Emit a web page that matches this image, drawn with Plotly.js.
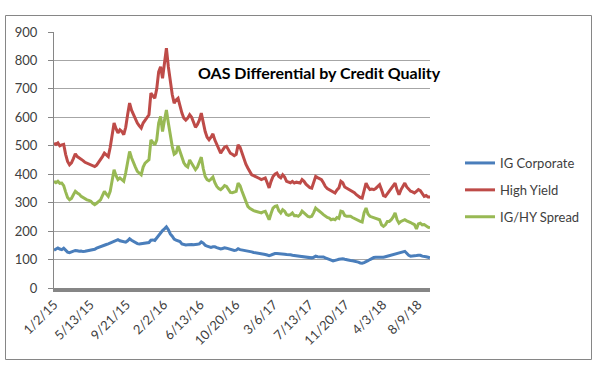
<!DOCTYPE html>
<html>
<head>
<meta charset="utf-8">
<script src="https://cdn.plot.ly/plotly-3.0.1.min.js"></script>
<style>html,body{margin:0;padding:0;background:#fff;}#chart{width:602px;height:373px;}</style>
</head>
<body>
<div id="chart"></div>
<script>
// Weekly observation dates (Fridays)
var dates = [
"2015-01-02","2015-01-09","2015-01-16","2015-01-23","2015-01-30","2015-02-06","2015-02-13","2015-02-20","2015-02-27",
"2015-03-06","2015-03-13","2015-03-20","2015-03-27","2015-04-03","2015-04-10","2015-04-17","2015-04-24",
"2015-05-01","2015-05-08","2015-05-15","2015-05-22","2015-05-29","2015-06-05","2015-06-12","2015-06-19","2015-06-26",
"2015-07-03","2015-07-10","2015-07-17","2015-07-24","2015-07-31","2015-08-07","2015-08-14","2015-08-21","2015-08-28",
"2015-09-04","2015-09-11","2015-09-18","2015-09-25","2015-10-02","2015-10-09","2015-10-16","2015-10-23","2015-10-30",
"2015-11-06","2015-11-13","2015-11-20","2015-11-27","2015-12-04","2015-12-11","2015-12-18","2015-12-25",
"2016-01-01","2016-01-08","2016-01-15","2016-01-22","2016-01-29","2016-02-05","2016-02-12","2016-02-19","2016-02-26",
"2016-03-04","2016-03-11","2016-03-18","2016-03-25","2016-04-01","2016-04-08","2016-04-15","2016-04-22","2016-04-29",
"2016-05-06","2016-05-13","2016-05-20","2016-05-27","2016-06-03","2016-06-10","2016-06-17","2016-06-24",
"2016-07-01","2016-07-08","2016-07-15","2016-07-22","2016-07-29","2016-08-05","2016-08-12","2016-08-19","2016-08-26",
"2016-09-02","2016-09-09","2016-09-16","2016-09-23","2016-09-30","2016-10-07","2016-10-14","2016-10-21","2016-10-28",
"2016-11-04","2016-11-11","2016-11-18","2016-11-25","2016-12-02","2016-12-09","2016-12-16","2016-12-23","2016-12-30",
"2017-01-06","2017-01-13","2017-01-20","2017-01-27","2017-02-03","2017-02-10","2017-02-17","2017-02-24",
"2017-03-03","2017-03-10","2017-03-17","2017-03-24","2017-03-31","2017-04-07","2017-04-14","2017-04-21","2017-04-28",
"2017-05-05","2017-05-12","2017-05-19","2017-05-26","2017-06-02","2017-06-09","2017-06-16","2017-06-23","2017-06-30",
"2017-07-07","2017-07-14","2017-07-21","2017-07-28","2017-08-04","2017-08-11","2017-08-18","2017-08-25",
"2017-09-01","2017-09-08","2017-09-15","2017-09-22","2017-09-29","2017-10-06","2017-10-13","2017-10-20","2017-10-27",
"2017-11-03","2017-11-10","2017-11-17","2017-11-24","2017-12-01","2017-12-08","2017-12-15","2017-12-22","2017-12-29",
"2018-01-05","2018-01-12","2018-01-19","2018-01-26","2018-02-02","2018-02-09","2018-02-16","2018-02-23",
"2018-03-02","2018-03-09","2018-03-16","2018-03-23","2018-03-30","2018-04-06","2018-04-13","2018-04-20","2018-04-27",
"2018-05-04","2018-05-11","2018-05-18","2018-05-25","2018-06-01","2018-06-08","2018-06-15","2018-06-22","2018-06-29",
"2018-07-06","2018-07-13","2018-07-20","2018-07-27","2018-08-03","2018-08-10","2018-08-17","2018-08-24","2018-08-31",
"2018-09-07","2018-09-14","2018-09-21"
];

var igCorporate = [
133,138,141,137,135,140,132,126,124,126,129,132,131,129,130,128,129,130,132,133,
134,136,140,143,145,148,151,153,155,158,162,164,167,170,166,164,162,161,166,173,
168,164,160,156,155,156,156,157,158,160,168,169,167,176,188,195,202,208,215,205,
190,182,172,168,166,163,155,153,151,152,153,153,152,152,154,155,162,158,150,147,
146,143,145,145,142,140,137,139,141,140,138,137,135,132,133,138,135,134,132,131,
130,129,127,125,124,123,123,121,120,118,116,114,116,119,121,121,121,120,120,119,
118,118,117,115,114,114,113,112,111,110,109,107,106,106,108,112,110,110,109,109,
106,104,101,98,95,96,99,101,103,103,101,99,97,97,96,95,94,91,88,87,
89,94,96,100,104,107,108,108,108,107,108,110,112,114,115,117,118,121,123,124,
126,129,122,115,112,112,112,114,115,115,112,112,110,108,106
];

var highYield = [
509,505,510,500,503,505,470,445,433,440,455,472,462,458,455,448,442,439,436,433,
430,427,432,441,450,462,474,468,462,495,545,580,560,545,556,550,539,565,610,650,
625,609,595,580,570,562,580,591,600,609,685,675,667,700,760,778,737,790,843,778,
720,680,650,661,667,640,615,597,590,597,609,600,580,565,575,590,615,580,550,530,
521,530,542,520,503,490,474,485,495,498,485,474,470,465,470,503,495,474,455,435,
422,410,398,395,392,390,385,381,385,387,370,352,375,392,400,404,392,387,398,390,
375,372,370,375,369,372,370,369,381,375,365,357,353,351,370,392,388,383,381,370,
357,350,346,340,336,334,345,352,375,370,355,351,348,346,340,335,328,322,318,316,
345,369,355,346,348,346,350,357,363,345,325,322,332,340,350,360,369,345,328,345,
360,369,355,346,340,338,334,340,346,342,330,322,325,320,320
];

var igHySpread = [
375,370,375,368,369,360,338,318,310,315,328,340,334,330,322,318,312,310,308,305,
298,293,298,305,310,325,340,330,322,340,385,416,395,381,387,380,375,405,445,480,
458,439,425,410,405,398,425,439,445,451,521,510,503,520,580,603,550,590,626,580,
530,498,470,475,500,480,462,440,430,425,450,439,425,416,425,440,460,420,392,381,
377,383,390,370,357,350,346,352,360,357,345,336,335,338,340,369,360,340,320,300,
287,280,275,272,270,268,266,264,268,270,255,240,262,281,287,289,272,264,275,270,
258,255,258,264,254,255,252,258,270,264,256,252,250,252,265,281,275,268,264,258,
252,248,246,240,242,240,248,245,270,268,255,252,252,252,248,244,240,236,234,232,
265,281,260,252,250,246,244,244,240,222,217,222,234,234,240,250,264,240,228,234,
238,240,236,234,230,226,223,208,225,228,222,223,217,214,211
];

var tickDates = ["2015-01-02","2015-05-13","2015-09-21","2016-02-02","2016-06-13","2016-10-20","2017-03-06","2017-07-13","2017-11-20","2018-04-03","2018-08-09"];
var tickLabels = ["1/2/15","5/13/15","9/21/15","2/2/16","6/13/16","10/20/16","3/6/17","7/13/17","11/20/17","4/3/18","8/9/18"];
var seriesNames = ["IG Corporate","High Yield","IG/HY Spread"];
var seriesColors = ["#4A7EBB","#BE4B48","#98B954"];
var yTicks = [0,100,200,300,400,500,600,700,800,900];

var FONT = "Lato, 'Open Sans', sans-serif";
var seriesData = [igCorporate, highYield, igHySpread];
var traces = seriesData.map(function(v, k){
  return {x: dates, y: v, type: "scatter", mode: "lines", name: seriesNames[k],
    legendgroup: "g"+k, line: {color: seriesColors[k], width: 3}, hoverinfo: "skip"};
});

var W = 602, H = 373, L = 54, R = 172, T = 32, B = 85;
var pw = W - L - R, ph = H - T - B;
function px(x){ return (x - L) / pw; }
function py(y){ return (H - B - y) / ph; }

var layout = {
  width: W, height: H,
  margin: {l: L, r: R, t: T, b: B, pad: 0},
  paper_bgcolor: "#fff", plot_bgcolor: "#fff",
  font: {family: FONT, size: 13, color: "#404040"},
  showlegend: true,
  title: {text: "OAS Differential by Credit Quality", x: 198/W, xanchor: "left", xref: "container",
          y: 1 - 73/H, yanchor: "middle", yref: "container",
          font: {family: FONT, size: 16, color: "#000", weight: "bold"}},
  xaxis: {type: "date", range: [dates[0], dates[dates.length-1]], tickvals: tickDates, ticktext: tickLabels,
          tickangle: -45, showgrid: false, zeroline: false, showline: true, linecolor: "#868686", linewidth: 4,
          ticks: "", tickfont: {family: FONT, size: 13, color: "#404040"}, fixedrange: true},
  yaxis: {range: [0, 900], tickvals: yTicks, showgrid: true, gridcolor: "#A6A6A6", gridwidth: 1,
          zeroline: false, showline: true, linecolor: "#868686", linewidth: 1, ticks: "outside",
          ticklen: 5, tickcolor: "#868686", ticklabelstandoff: 8,
          tickfont: {family: FONT, size: 13, color: "#404040"}, fixedrange: true},
  legend: {x: px(460), xanchor: "left", y: py(148), yanchor: "top", bgcolor: "rgba(0,0,0,0)",
           font: {family: FONT, size: 13, color: "#404040"}, tracegroupgap: 7, itemwidth: 30},
  shapes: [{type: "rect", xref: "paper", yref: "paper", x0: px(5.5), x1: px(591.5), y0: py(359.5), y1: py(15.5),
            line: {color: "#868686", width: 1}, fillcolor: "rgba(0,0,0,0)", layer: "below"}]
};

Plotly.newPlot("chart", traces, layout, {staticPlot: true, displayModeBar: false});
</script>
</body>
</html>
